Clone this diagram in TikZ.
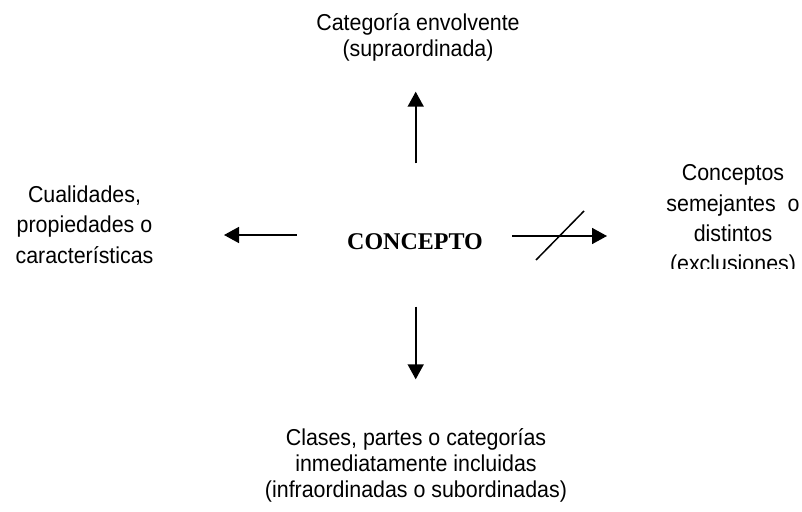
\documentclass[tikz,border=0pt]{standalone}
\usepackage{fontspec}
\setmainfont[FakeStretch=0.93]{Liberation Sans}
\newfontfamily\serifbold{Liberation Serif}
\usetikzlibrary{arrows.meta}
\begin{document}
\begin{tikzpicture}[x=1pt,y=-1pt,
  lbl/.style={inner sep=0pt, align=center, font=\fontsize{23}{26}\selectfont},
  lblw/.style={inner sep=0pt, align=center, font=\fontsize{23}{30.4}\selectfont},
  arr/.style={line width=1.6pt, -{Triangle[length=15pt,width=16pt]}},
  slash/.style={line width=1.5pt}
]
\useasboundingbox (0,0) rectangle (802,511);
\node[lbl, anchor=base] (top) at (418,56.7) {Categoría envolvente\\(supraordinada)};
\node[lbl, anchor=base] (bottom) at (416,497.7) {Clases, partes o categorías\\inmediatamente incluidas\\(infraordinadas o subordinadas)};
\node[lblw, anchor=base] (left) at (84.5,263.3) {Cualidades,\\propiedades o\\características};
\begin{scope}
\clip (600,140) rectangle (802,268);
\node[lblw, anchor=base] (right) at (733,271.9) {Conceptos\\semejantes~~o\\distintos\\(exclusiones)};
\end{scope}
\node[inner sep=0pt, anchor=base, font=\serifbold\bfseries\fontsize{24}{28}\selectfont] (c) at (415,249.3) {CONCEPTO};
\coordinate (upS) at (415.7,163.3);
\coordinate (upE) at (415.7,91.7);
\coordinate (dnS) at (415.7,306.7);
\coordinate (dnE) at (415.7,379.3);
\coordinate (lfS) at (296.7,235);
\coordinate (lfE) at (224,235);
\coordinate (rtS) at (512,236);
\coordinate (rtE) at (607,236);
\coordinate (slA) at (536,260);
\coordinate (slB) at (584,211);
\draw[arr] (upS) -- (upE);
\draw[arr] (dnS) -- (dnE);
\draw[arr] (lfS) -- (lfE);
\draw[arr] (rtS) -- (rtE);
\draw[slash] (slA) -- (slB);
\end{tikzpicture}
\end{document}
